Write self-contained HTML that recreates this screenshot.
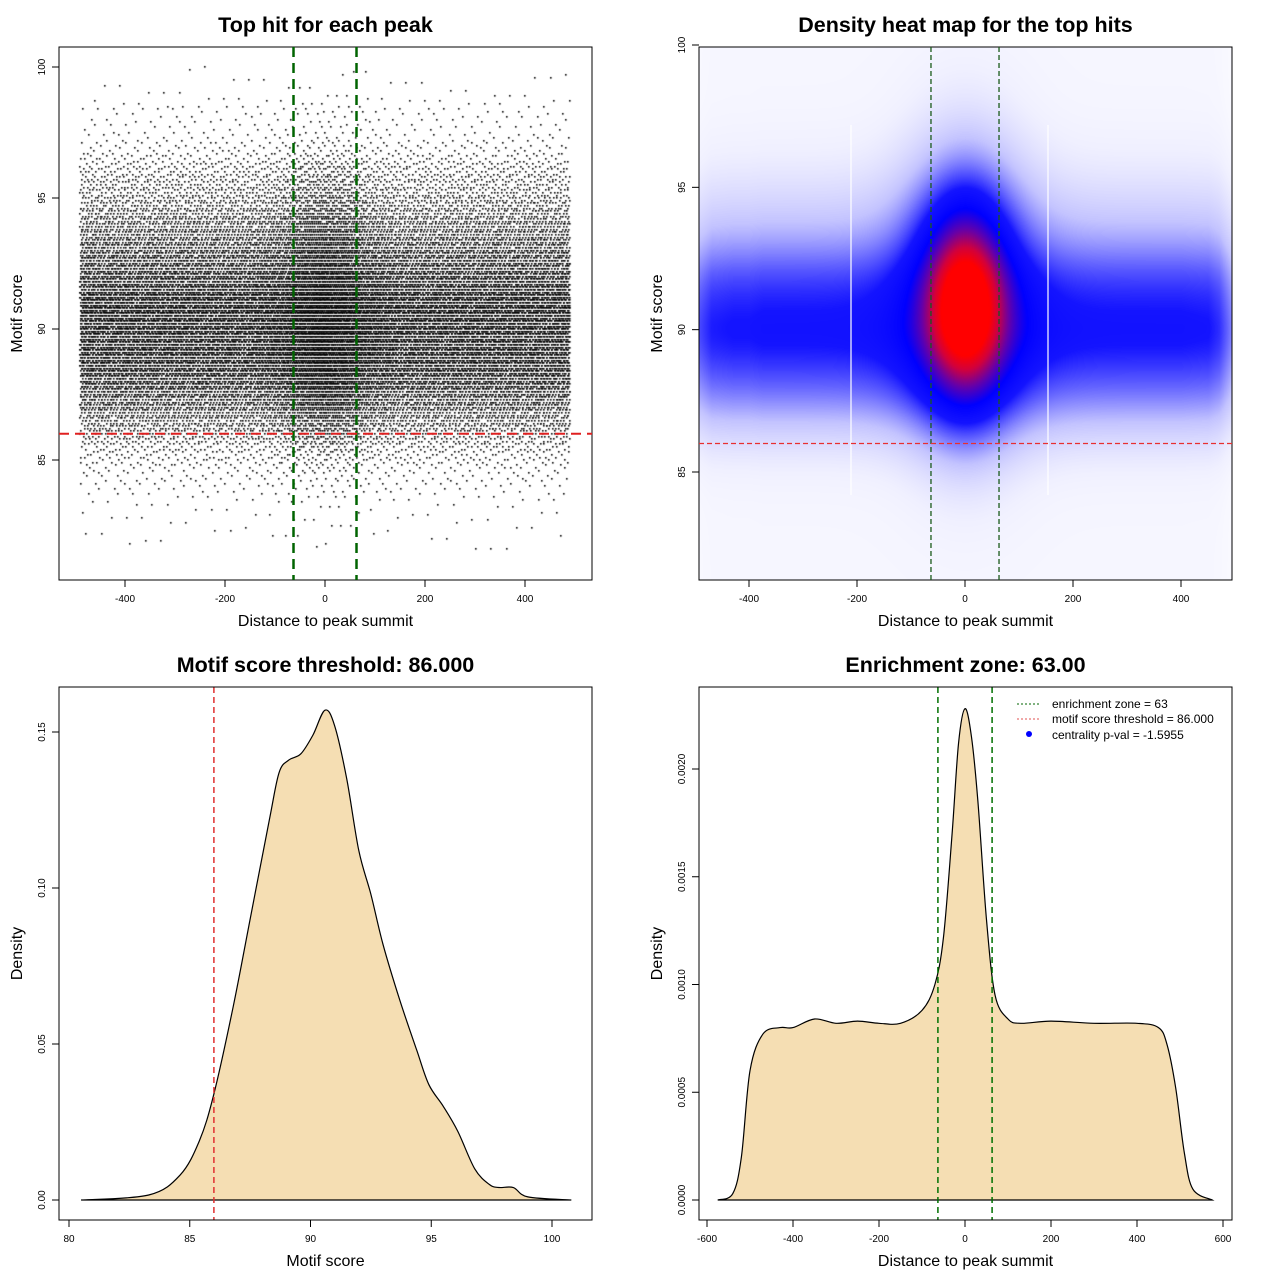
<!DOCTYPE html>
<html><head><meta charset="utf-8">
<style>
html,body{margin:0;padding:0;background:#fff;}
#wrap{position:relative;width:1280px;height:1280px;overflow:hidden;font-family:"Liberation Sans",sans-serif;}
canvas{position:absolute;}
svg{position:absolute;left:0;top:0;}
</style></head>
<body>
<div id="wrap">
<canvas id="scatter" width="533" height="533" style="left:59px;top:47px"></canvas>
<canvas id="heat" width="533" height="533" style="left:699px;top:47px"></canvas>
<svg id="svg" width="1280" height="1280"></svg>
</div>
<script>
// ---- data ----
const scoreX = [80.5,83.3,84.6,85.4,86,86.8,87.5,88.3,88.7,89.1,89.6,90.1,90.6,91.0,91.5,92.0,92.5,93.0,93.7,94.4,94.9,95.5,96.1,96.8,97.4,97.8,98.4,99.0,100.8];
const scoreD = [0,0.0016,0.008,0.019,0.034,0.062,0.09,0.122,0.137,0.141,0.143,0.149,0.157,0.152,0.135,0.112,0.098,0.082,0.064,0.048,0.037,0.03,0.022,0.01,0.005,0.004,0.004,0.001,0];
const distX = [-575,-540,-520,-500,-470,-430,-400,-350,-300,-250,-200,-150,-100,-70,-50,-30,-15,0,15,30,50,70,100,130,200,300,400,450,470,490,510,530,575];
const distD = [0,0.00003,0.0002,0.0006,0.00077,0.0008,0.0008,0.00084,0.00082,0.00083,0.00082,0.00082,0.00088,0.001,0.00122,0.0017,0.00212,0.00228,0.00215,0.00185,0.0013,0.00095,0.00084,0.00082,0.00083,0.00082,0.00082,0.0008,0.00072,0.00052,0.00022,0.00005,0];
// scatter x weights (points spread within ±490)
const scatX = [-490,-300,-150,-80,-40,0,40,80,150,300,490];
const scatW = [1.0,1.0,1.0,1.2,1.55,1.7,1.55,1.2,1.0,1.0,1.0];
// heatmap hotspots: [distance, score, sdDist, sdScore, weight]
const hotCore = [0, 90.9, 50, 2.2, 0.62];
const hotHalo = [0, 91.3, 80, 3.4, 0.28];
const xTicks1 = [-400,-200,0,200,400];
const yTicks1 = [85,90,95,100];
const xTicks3 = [80,85,90,95,100];
const yTicks3 = [0,0.05,0.10,0.15];
const yTickLab3 = ["0.00","0.05","0.10","0.15"];
const xTicks4 = [-600,-400,-200,0,200,400,600];
const yTicks4 = [0,0.0005,0.001,0.0015,0.002];
const yTickLab4 = ["0.0000","0.0005","0.0010","0.0015","0.0020"];
const zone = 63, threshold = 86, nPoints = 30000;

const NS="http://www.w3.org/2000/svg";
const svg=document.getElementById('svg');
function el(tag,attrs,parent,name,txt){
  const e=document.createElementNS(NS,tag);
  for(const k in attrs) e.setAttribute(k,attrs[k]);
  
  
  if(txt!==undefined) e.textContent=txt;
  (parent||svg).appendChild(e); return e;
}
function lin(d0,d1,r0,r1){return v=>r0+(v-d0)/(d1-d0)*(r1-r0);}
function interp(xs,ys,v){
  if(v<=xs[0])return ys[0]; if(v>=xs[xs.length-1])return ys[ys.length-1];
  let i=1; while(xs[i]<v)i++;
  const t=(v-xs[i-1])/(xs[i]-xs[i-1]); return ys[i-1]+t*(ys[i]-ys[i-1]);
}
function axes(box,xs,ys,xt,xtl,yt,ytl,title,xl,yl,key){
  el('rect',{x:box.l,y:box.t,width:box.r-box.l,height:box.b-box.t,fill:'none',stroke:'#000','stroke-width':1},svg,key+'-frame');
  xt.forEach((v,i)=>{const x=xs(v);
    el('line',{x1:x,x2:x,y1:box.b,y2:box.b+7,stroke:'#000'},svg,key+'-x-tick');
    el('text',{x:x,y:box.b+22,'font-size':10,'text-anchor':'middle'},svg,key+'-x-tick-label',xtl[i]);});
  yt.forEach((v,i)=>{const y=ys(v);
    el('line',{x1:box.l-7,x2:box.l,y1:y,y2:y,stroke:'#000'},svg,key+'-y-tick');
    el('text',{x:box.l-14,y:y,'font-size':10,'text-anchor':'middle',transform:`rotate(-90 ${box.l-14} ${y})`},svg,key+'-y-tick-label',ytl[i]);});
  el('text',{x:(box.l+box.r)/2,y:box.t-15,'font-size':21.5,'font-weight':'bold','text-anchor':'middle'},svg,key+'-title',title);
  el('text',{x:(box.l+box.r)/2,y:box.b+46,'font-size':16,'text-anchor':'middle'},svg,key+'-x-axis-title',xl);
  const yx=box.l-37,yy=(box.t+box.b)/2;
  el('text',{x:yx,y:yy,'font-size':16,'text-anchor':'middle',transform:`rotate(-90 ${yx} ${yy})`},svg,key+'-y-axis-title',yl);
}
function smoothPath(pts){
  let d=`M${pts[0][0]},${pts[0][1]}`;
  for(let i=0;i<pts.length-1;i++){
    const p0=pts[Math.max(0,i-1)],p1=pts[i],p2=pts[i+1],p3=pts[Math.min(pts.length-1,i+2)];
    const c1=[p1[0]+(p2[0]-p0[0])/6,p1[1]+(p2[1]-p0[1])/6],c2=[p2[0]-(p3[0]-p1[0])/6,p2[1]-(p3[1]-p1[1])/6];
    d+=` C${c1[0]},${c1[1]} ${c2[0]},${c2[1]} ${p2[0]},${p2[1]}`;
  }
  return d;
}
function makeCDF(xs,ys,lo,hi){
  const n=400,vals=[],cum=[0];let s=0;
  for(let i=0;i<=n;i++){vals.push(lo+(hi-lo)*i/n);}
  for(let i=1;i<=n;i++){s+=interp(xs,ys,(vals[i]+vals[i-1])/2);cum.push(s);}
  return u=>{const t=u*s;let i=1;while(i<n&&cum[i]<t)i++;const f=(t-cum[i-1])/((cum[i]-cum[i-1])||1);return vals[i-1]+f*(vals[i]-vals[i-1]);};
}

// ---- Panel 1: scatter ----
const b1={l:59,r:592,t:47,b:580};
const x1=lin(0,400,325,525), y1=lin(100,85,67,460);
(function(){
  const c=document.getElementById('scatter').getContext('2d');c.fillStyle='#000';
  const invX=makeCDF(scatX,scatW,-490,490), invY=makeCDF(scoreX,scoreD,81.5,100);
  const g1=0.7548776662,g2=0.5698402910;
  for(let i=0;i<nPoints;i++){
    const u=(0.5+i*g1)%1,v=(0.5+i*g2)%1;
    const xv=invX(u); const yv=Math.round(invY(v)*10)/10;
    c.fillRect(Math.round(x1(xv)-b1.l-0.8),Math.round(y1(yv)-b1.t-0.8),1.6,1.6);
  }
})();
axes(b1,x1,y1,xTicks1,xTicks1.map(String),yTicks1,yTicks1.map(String),'Top hit for each peak','Distance to peak summit','Motif score','p1');
[-zone,zone].forEach(z=>el('line',{x1:x1(z),x2:x1(z),y1:b1.t,y2:b1.b,stroke:'#006400','stroke-width':2.5,'stroke-dasharray':'10,6'},svg,'p1-enrichment-line'));
el('line',{x1:b1.l,x2:b1.r,y1:y1(threshold),y2:y1(threshold),stroke:'#e02020','stroke-width':2,'stroke-dasharray':'10,6'},svg,'p1-threshold-line');

// ---- Panel 2: heatmap ----
const b2={l:699,r:1232,t:47,b:580};
const x2=lin(0,200,965,1073), y2=lin(100,85,45,472);
(function(){
  const cv=document.getElementById('heat'),c=cv.getContext('2d');
  const img=c.createImageData(533,533);
  const fymax=0.157, base=0.00082;
  const ramp=[[0,255,255,255],[0.05,240,240,255],[0.14,195,195,255],[0.25,100,100,255],[0.35,20,20,255],[0.5,0,0,255],[0.68,100,0,170],[0.86,210,0,60],[1,255,0,0]];
  function g(h,dv,sv){const a=(dv-h[0])/h[2],b=(sv-h[1])/h[3];return h[4]*Math.exp(-(a*a+b*b)/2);}
  for(let py=0;py<533;py++){
    const sv=100-(py+b2.t-45)*15/427;
    let fy=0;for(let k=-4;k<=4;k++)fy+=interp(scoreX,scoreD,sv+k*0.35);fy/=9;
    const bandY=Math.pow(fy/fymax,1.35);
    for(let px=0;px<533;px++){
      const dv=(px+b2.l-965)*200/108;
      const fx=Math.min(1,interp(distX,distD,dv)/base);
      let d=0.03*fx+0.37*bandY*fx+g(hotCore,dv,sv)+g(hotHalo,dv,sv);
      d=Math.min(1,d);
      let j=1;while(j<ramp.length-1&&ramp[j][0]<d)j++;
      const a=ramp[j-1],bb=ramp[j],t=Math.max(0,Math.min(1,(d-a[0])/(bb[0]-a[0])));
      const o=(py*533+px)*4;
      img.data[o]=a[1]+t*(bb[1]-a[1]);img.data[o+1]=a[2]+t*(bb[2]-a[2]);img.data[o+2]=a[3]+t*(bb[3]-a[3]);img.data[o+3]=255;
    }
  }
  c.putImageData(img,0,0);
})();
[851,1048].forEach(x=>el('line',{x1:x,x2:x,y1:125,y2:495,stroke:'#fff','stroke-width':1.2},svg,'p2-artifact-line'));
axes(b2,x2,y2,xTicks1,xTicks1.map(String),yTicks1,yTicks1.map(String),'Density heat map for the top hits','Distance to peak summit','Motif score','p2');
[-zone,zone].forEach(z=>el('line',{x1:x2(z),x2:x2(z),y1:b2.t,y2:b2.b,stroke:'#1a5a1a','stroke-width':1.3,'stroke-dasharray':'5,3'},svg,'p2-enrichment-line'));
el('line',{x1:b2.l,x2:b2.r,y1:y2(threshold),y2:y2(threshold),stroke:'#e83030','stroke-width':1.3,'stroke-dasharray':'5,3'},svg,'p2-threshold-line');

// ---- Panel 3: score density ----
const b3={l:59,r:592,t:687,b:1220};
const x3=lin(80,100,69,552), y3=lin(0,0.15,1200,732);
const pts3=scoreX.map((v,i)=>[x3(v),y3(scoreD[i])]);
el('path',{d:smoothPath(pts3)+' Z',fill:'#f5deb3',stroke:'#000','stroke-width':1.2},svg,'p3-density-curve');
el('line',{x1:x3(threshold),x2:x3(threshold),y1:b3.t,y2:b3.b,stroke:'#e03030','stroke-width':1.5,'stroke-dasharray':'6,4'},svg,'p3-threshold-line');
axes(b3,x3,y3,xTicks3,xTicks3.map(String),yTicks3,yTickLab3,'Motif score threshold: 86.000','Motif score','Density','p3');

// ---- Panel 4: distance density ----
const b4={l:699,r:1232,t:687,b:1220};
const x4=lin(0,200,965,1051), y4=lin(0,0.002,1200,769);
const pts4=distX.map((v,i)=>[x4(v),y4(distD[i])]);
el('path',{d:smoothPath(pts4)+' Z',fill:'#f5deb3',stroke:'#000','stroke-width':1.2},svg,'p4-density-curve');
[-zone,zone].forEach(z=>el('line',{x1:x4(z),x2:x4(z),y1:b4.t,y2:b4.b,stroke:'#007000','stroke-width':1.5,'stroke-dasharray':'6,4'},svg,'p4-enrichment-line'));
axes(b4,x4,y4,xTicks4,xTicks4.map(String),yTicks4,yTickLab4,'Enrichment zone: 63.00','Distance to peak summit','Density','p4');
const lg=el('g',{},svg,'legend');
el('line',{x1:1017,x2:1041,y1:704,y2:704,stroke:'#006400','stroke-dasharray':'2,2'},lg,'legend-zone-swatch');
el('text',{x:1052,y:708,'font-size':12},lg,'legend-zone-label','enrichment zone = 63');
el('line',{x1:1017,x2:1041,y1:719,y2:719,stroke:'#e05050','stroke-dasharray':'2,2'},lg,'legend-threshold-swatch');
el('text',{x:1052,y:723,'font-size':12},lg,'legend-threshold-label','motif score threshold = 86.000');
el('circle',{cx:1029,cy:734,r:3,fill:'#0000ff'},lg,'legend-pval-swatch');
el('text',{x:1052,y:739,'font-size':12},lg,'legend-pval-label','centrality p-val = -1.5955');
</script>
</body></html>
